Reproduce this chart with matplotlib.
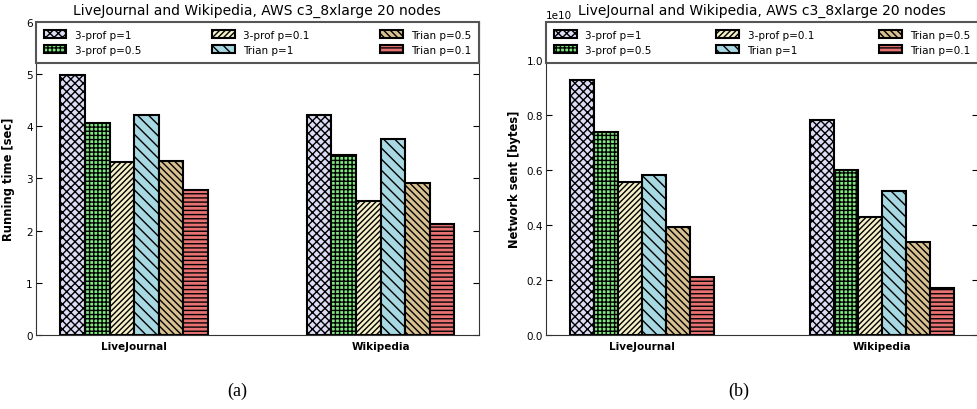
import numpy as np
import matplotlib
matplotlib.use('Agg')
import matplotlib.pyplot as plt

graphs = ['LiveJournal', 'Wikipedia']
series = ['3-prof p=1', '3-prof p=0.5', '3-prof p=0.1', 'Trian p=1', 'Trian p=0.5', 'Trian p=0.1']

# running time [sec], one list per series: [LiveJournal, Wikipedia]
run_time = [
	[4.98, 4.22],
	[4.07, 3.45],
	[3.31, 2.57],
	[4.22, 3.75],
	[3.34, 2.92],
	[2.78, 2.13],
]

# network sent [bytes]
net_sent = [
	[0.930e10, 0.783e10],
	[0.739e10, 0.600e10],
	[0.559e10, 0.430e10],
	[0.583e10, 0.525e10],
	[0.393e10, 0.339e10],
	[0.212e10, 0.171e10],
]

colors = ['#dcdcf6', '#80e880', '#f6f0c8', '#a8d8e2', '#d8c090', '#e87272']
hatches = ['xxxx', '++++', '//////', '\\\\\\', '\\\\\\\\\\', '----']

plt.rcParams['hatch.linewidth'] = 1.0
plt.rcParams['axes.edgecolor'] = '#333333'

title = 'LiveJournal and Wikipedia, AWS c3_8xlarge 20 nodes'

def Draw_Panel(ax, data, ylabel, ylim, yticks):
	width = 0.1
	x = np.arange(len(graphs))
	for i in range(len(series)):
		ax.bar(x + (i - 2.5) * width, data[i], width, color=colors[i], hatch=hatches[i],
			edgecolor='black', linewidth=1.5, label=series[i])
	ax.set_xlim(-0.4, 1.4)
	ax.set_ylim(ylim)
	ax.set_yticks(yticks)
	ax.set_xticks(x)
	ax.set_xticklabels(graphs, fontweight='bold', fontsize=7.5)
	ax.tick_params(axis='x', length=0, pad=4)
	ax.tick_params(axis='y', direction='in', right=True, labelsize=7.5, length=4, pad=2)
	ax.set_ylabel(ylabel, fontweight='bold', fontsize=8.3)
	ax.set_title(title, fontsize=10, pad=6)
	leg = ax.legend(loc='upper left', bbox_to_anchor=(0, 0, 1, 1), mode='expand', ncol=3,
		borderaxespad=0, fontsize=7.5, handlelength=2.2, handleheight=0.8, labelspacing=0.5,
		borderpad=0.75, fancybox=False, framealpha=1)
	leg.get_frame().set_edgecolor('#555555')
	leg.get_frame().set_linewidth(1.5)
	ax.yaxis.get_offset_text().set_fontsize(7.5)

fig = plt.figure(figsize=(9.78, 4.10), dpi=100)
ax1 = fig.add_axes([0.0365, 0.1805, 0.4533, 0.7634])
ax2 = fig.add_axes([0.5583, 0.1805, 0.4417, 0.7634])

Draw_Panel(ax1, run_time, 'Running time [sec]', (0, 6), [0, 1, 2, 3, 4, 5, 6])
Draw_Panel(ax2, net_sent, 'Network sent [bytes]', (0, 1.14e10), [0, 0.2e10, 0.4e10, 0.6e10, 0.8e10, 1.0e10])
ax1.yaxis.labelpad = 8
ax2.yaxis.labelpad = 4

fig.text(0.243, 0.045, '(a)', ha='center', va='center', fontsize=13, family='Liberation Serif')
fig.text(0.755, 0.045, '(b)', ha='center', va='center', fontsize=13, family='Liberation Serif')

fig.savefig('out.png', dpi=100)
